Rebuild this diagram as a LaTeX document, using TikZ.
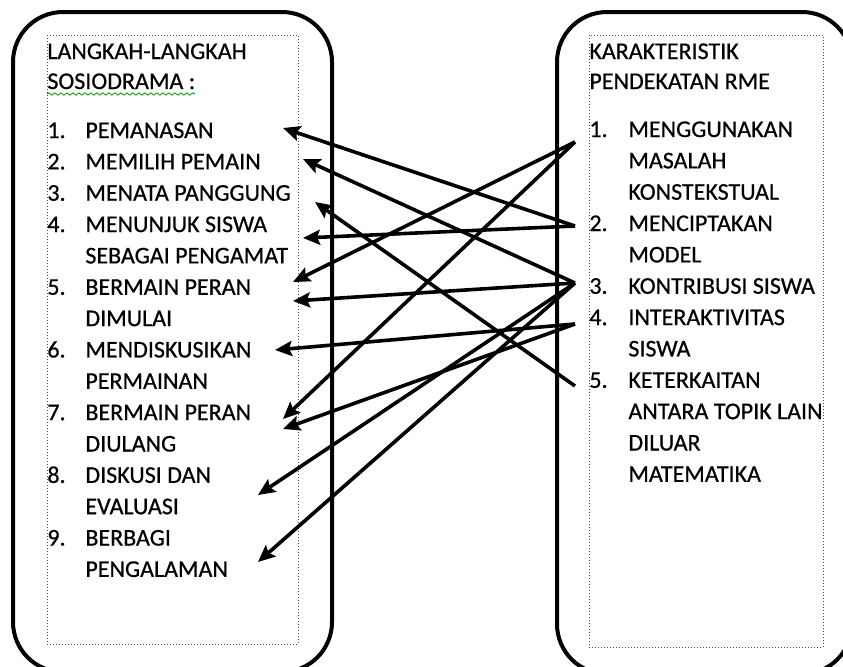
\documentclass[tikz,border=0pt]{standalone}
\usepackage{fontspec}
\setmainfont{Carlito}[UprightFeatures={FakeBold=0.6}]
\usetikzlibrary{arrows.meta,decorations.pathmorphing}

\tikzset{
  kotak/.style={line width=2pt, rounded corners=25pt},
  dalam/.style={densely dotted, line width=0.5pt, black!70},
  teks/.style={anchor=base west, inner sep=0pt, font=\fontsize{12}{14}\selectfont},
  panah/.style={line width=1.8pt, -{Stealth[length=8.5pt,width=7.5pt,inset=1.5pt]}},
}

\begin{document}
\begin{tikzpicture}[x=0.5pt,y=-0.5pt]
    \useasboundingbox (0,0) rectangle (843,666);
    \clip (0,0) rectangle (843,666);
    %%Kotak kiri dan kanan
    \draw[kotak] (13,12) rectangle (332,672);
    \draw[kotak] (557,12) rectangle (852,674);
    \draw[dalam] (47,35) rectangle (298,644);
    \draw[dalam] (589,35) rectangle (823,647);
    %%Judul
    \node[teks] (jkiri1) at (47,59) {LANGKAH-LANGKAH};
    \node[teks] (jkiri2) at (47,89) {SOSIODRAMA :};
    \draw[green!60!black, line width=0.4pt, decorate,
      decoration={snake, amplitude=0.6pt, segment length=3pt}] (47,94) -- (195,94);
    \node[teks] (jkanan1) at (589,59) {KARAKTERISTIK};
    \node[teks] (jkanan2) at (589,89) {PENDEKATAN RME};
    %%Langkah sosiodrama
    \foreach \no/\isi [count=\k] in {1./PEMANASAN, 2./MEMILIH PEMAIN, 3./MENATA PANGGUNG,
      4./MENUNJUK SISWA, {}/SEBAGAI PENGAMAT, 5./BERMAIN PERAN, {}/DIMULAI,
      6./MENDISKUSIKAN, {}/PERMAINAN, 7./BERMAIN PERAN, {}/DIULANG,
      8./DISKUSI DAN, {}/EVALUASI, 9./BERBAGI, {}/PENGALAMAN}
    {
      \node[teks] (kn\k) at (47,{138+31.35*(\k-1)}) {\no};
      \node[teks] (kt\k) at (85,{138+31.35*(\k-1)}) {\isi};
    }
    %%Karakteristik RME
    \foreach \no/\isi [count=\k] in {1./MENGGUNAKAN, {}/MASALAH, {}/KONSTEKSTUAL,
      2./MENCIPTAKAN, {}/MODEL, 3./KONTRIBUSI SISWA, 4./INTERAKTIVITAS, {}/SISWA,
      5./KETERKAITAN, {}/ANTARA TOPIK LAIN, {}/DILUAR, {}/MATEMATIKA}
    {
      \node[teks] (rn\k) at (589,{137+31.35*(\k-1)}) {\no};
      \node[teks] (rt\k) at (628,{137+31.35*(\k-1)}) {\isi};
    }
    %%Pangkal panah
    \coordinate (r1) at (575,142);
    \coordinate (r2) at (575,226);
    \coordinate (r3) at (575,283);
    \coordinate (r4) at (575,324);
    \coordinate (r5) at (575,386);
    %%Ujung panah
    \coordinate (a1) at (283,128);
    \coordinate (a2) at (303,159);
    \coordinate (a3) at (315,202);
    \coordinate (a4) at (303,238);
    \coordinate (a5) at (293,282);
    \coordinate (a5b) at (293,301);
    \coordinate (a6) at (275,350);
    \coordinate (a7) at (283,419);
    \coordinate (a7b) at (283,429);
    \coordinate (a8) at (258,495);
    \coordinate (a9) at (258,562);
    \foreach \a/\b in {r2/a1, r3/a2, r5/a3, r2/a4, r1/a5, r3/a5b,
      r4/a6, r1/a7, r4/a7b, r3/a8, r3/a9}
      \draw[panah] (\a) -- (\b);
\end{tikzpicture}
\end{document}
